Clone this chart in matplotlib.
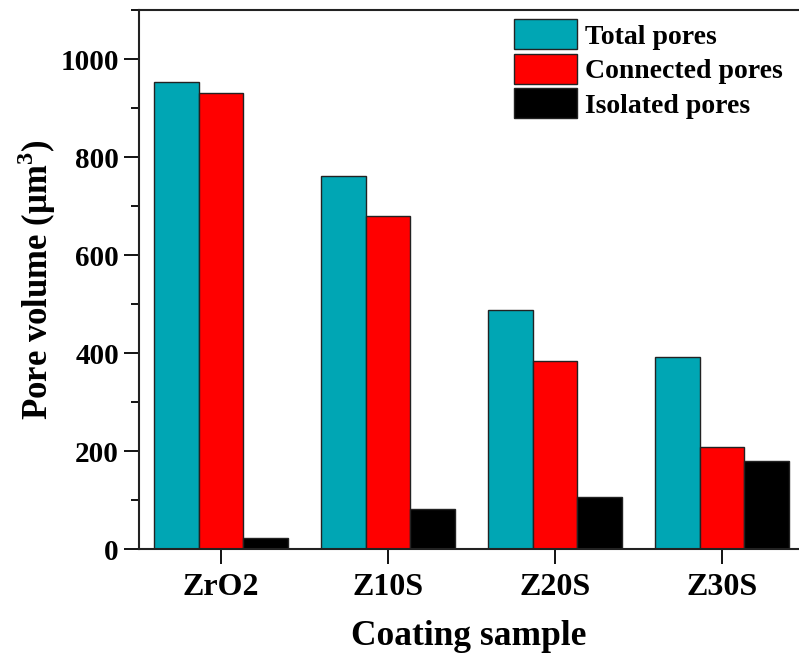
import numpy as np
import matplotlib.pyplot as plt
from matplotlib.ticker import MultipleLocator

plt.rcParams['font.family'] = ['Liberation Serif', 'DejaVu Serif']
plt.rcParams['font.weight'] = 'bold'
plt.rcParams['mathtext.fontset'] = 'custom'
plt.rcParams['mathtext.rm'] = 'Liberation Serif:bold'
plt.rcParams['mathtext.bf'] = 'Liberation Serif:bold'

samples = ['ZrO2', 'Z10S', 'Z20S', 'Z30S']
total_pores = [954, 762, 489, 392]
connected_pores = [931, 680, 384, 208]
isolated_pores = [22, 82, 106, 181]

series = [
    ('Total pores', total_pores, '#00A6B4'),
    ('Connected pores', connected_pores, '#FF0000'),
    ('Isolated pores', isolated_pores, '#000000'),
]

fig = plt.figure(figsize=(7.99, 6.59), dpi=100)
ax = fig.add_axes([0.174, 0.1665, 0.826, 0.818])

# three bars per sample, grouped around integer positions
x = np.arange(1, len(samples) + 1)
w = 0.267
for i, (name, vals, col) in enumerate(series):
    ax.bar(x + (i - 1) * w, vals, w, color=col, edgecolor='#222222',
           linewidth=1.0, label=name)

ax.set_xlim(0.509, 4.461)
ax.set_ylim(0, 1100)
ax.set_xticks(x)
ax.set_xticklabels(samples, fontsize=23, fontweight='bold')
ax.yaxis.set_major_locator(MultipleLocator(200))
ax.yaxis.set_minor_locator(MultipleLocator(100))
ax.tick_params(axis='y', which='major', labelsize=21, length=11, width=1.3, direction='out')
ax.tick_params(axis='y', which='minor', length=6, width=1.3, direction='out')
ax.tick_params(axis='x', length=11, width=1.3, direction='out', pad=6)
for lab in ax.get_yticklabels():
    lab.set_fontweight('bold')

for side in ['left', 'bottom', 'top']:
    ax.spines[side].set_linewidth(1.5)
    ax.spines[side].set_color('#222222')
ax.spines['right'].set_visible(False)

ax.set_xlabel('Coating sample', fontsize=25.5, fontweight='bold', labelpad=13)
ax.set_ylabel('Pore volume (μm$^{3}$)', fontsize=25, fontweight='bold', labelpad=2)

ax.legend(loc='upper left', bbox_to_anchor=(0.552, 1.004), frameon=False,
          handlelength=2.25, handleheight=1.29,
          labelspacing=0.15, handletextpad=0.3, borderaxespad=0,
          prop={'weight': 'bold', 'size': 20})

fig.savefig('out.png', dpi=100)
